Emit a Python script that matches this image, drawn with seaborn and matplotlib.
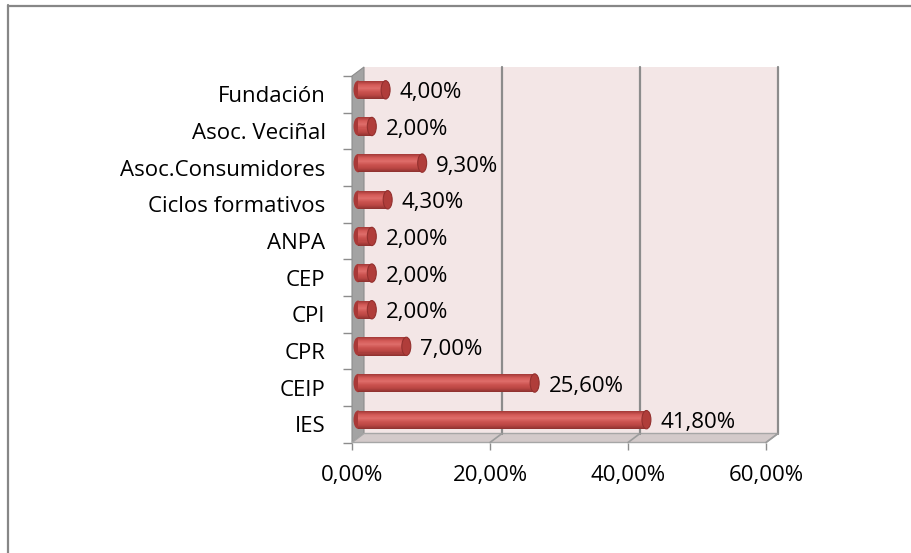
import numpy as np
import pandas as pd
import matplotlib
matplotlib.use('Agg')
import matplotlib.pyplot as plt
import seaborn as sns
from matplotlib.patches import Polygon, Ellipse, Rectangle
from matplotlib.lines import Line2D
from matplotlib.transforms import offset_copy
from matplotlib.colors import LinearSegmentedColormap

# datos
categorias = ['Fundación', 'Asoc. Veciñal', 'Asoc.Consumidores', 'Ciclos formativos',
              'ANPA', 'CEP', 'CPI', 'CPR', 'CEIP', 'IES']
porcentajes = [4.0, 2.0, 9.3, 4.3, 2.0, 2.0, 2.0, 7.0, 25.6, 41.8]
ticks_x = [0, 20, 40, 60]
etiq_x = ['0,00%', '20,00%', '40,00%', '60,00%']

sns.set_theme(style='white')
plt.rcParams['font.family'] = ['Open Sans', 'DejaVu Sans']
fs = 16

W, H = 912, 553
fig = plt.figure(figsize=(W/100, H/100), dpi=100)
# plano frontal en pixeles
fx0, fx1 = 352, 766
fy0, fy1 = 76, 442.5
ax = fig.add_axes([fx0/W, 1-fy1/H, (fx1-fx0)/W, (fy1-fy0)/H])

df = pd.DataFrame({'cat': categorias, 'pct': porcentajes})
sns.barplot(data=df, x='pct', y='cat', order=categorias, color='#C0504D',
            saturation=1, width=0.5, ax=ax, zorder=5)
bars = list(ax.patches)

ax.set_xlim(0, 60)
ax.set_ylim(9.5, -0.5)
ax.patch.set_visible(False)
for s in ax.spines.values():
    s.set_visible(False)

back = offset_copy(ax.transData, fig=fig, x=12, y=9, units='dots')
mid = offset_copy(ax.transData, fig=fig, x=6, y=4.5, units='dots')
front = ax.transData

# pared del fondo
ax.add_patch(Rectangle((0, -0.5), 60, 10, transform=back, facecolor='#F3E6E6',
                       edgecolor='none', zorder=0, clip_on=False))
# pared izquierda
pts = [front.transform((0, -0.5)), back.transform((0, -0.5)),
       back.transform((0, 9.5)), front.transform((0, 9.5))]
pts = ax.transData.inverted().transform(pts)
ax.add_patch(Polygon(pts, closed=True, facecolor='#A3A3A3', edgecolor='#8C8C8C',
                     lw=0.8, zorder=1, clip_on=False))
# suelo
pts = [front.transform((0, 9.5)), front.transform((60, 9.5)),
       back.transform((60, 9.5)), back.transform((0, 9.5))]
pts = ax.transData.inverted().transform(pts)
ax.add_patch(Polygon(pts, closed=True, facecolor='#D3CACA', edgecolor='#A6A6A6',
                     lw=1, zorder=1, clip_on=False))
# rejilla
for xv in ticks_x[1:]:
    ax.plot([xv, xv], [-0.5, 9.5], transform=back, color='#8C8C8C', lw=1.6, zorder=2,
            clip_on=False)
    a = front.transform((xv, 9.5)); b = back.transform((xv, 9.5))
    a, b = ax.transData.inverted().transform([a, b])
    ax.plot([a[0], b[0]], [a[1], b[1]], color='#9C9C9C', lw=1.2, zorder=2, clip_on=False)

# cilindros
cmap = LinearSegmentedColormap.from_list('cil', ['#A83C3A', '#D45B58', '#DE6D6A', '#CB524F',
                                                  '#BA4643', '#913331'])
nstr = 18
cap_w = 1.3
for p, v in zip(bars, porcentajes):
    x, y, w, h = p.get_x(), p.get_y(), p.get_width(), p.get_height()
    yc = y + h/2
    p.set_transform(mid)
    p.set_edgecolor('none')
    ax.add_patch(Ellipse((x, yc), cap_w, h, transform=mid, facecolor='#A93937',
                         edgecolor='none', zorder=4, clip_on=False))
    for k in range(nstr):
        ax.add_patch(Rectangle((x, y + k*h/nstr), w, h/nstr*1.08, transform=mid,
                               facecolor=cmap(k/(nstr-1)), edgecolor='none', zorder=5,
                               clip_on=False))
    ax.add_patch(Ellipse((x + w, yc), cap_w, h, transform=mid, facecolor='#B03D3A',
                         edgecolor='#93302E', lw=0.8, zorder=6, clip_on=False))
    ax.annotate(f'{v:.2f}'.replace('.', ',') + '%', xy=(x + w, yc), xycoords=mid,
                xytext=(14, -3), textcoords='offset pixels', va='center', ha='left',
                fontsize=fs, color='black', zorder=7)

# ejes
ax.set_xticks(ticks_x)
ax.set_xticklabels(etiq_x)
ax.set_yticks(range(len(categorias)))
ax.set_yticklabels(categorias)
ax.set_yticks(np.arange(-0.5, 10, 1), minor=True)
ax.set_xlabel('')
ax.set_ylabel('')
ax.tick_params(axis='x', which='major', bottom=True, direction='out', length=5,
               width=1, color='#8C8C8C', pad=11.5, labelsize=fs, labelcolor='black')
ax.tick_params(axis='y', which='major', left=False, pad=13, labelsize=fs,
               labelcolor='black')
ax.tick_params(axis='y', which='minor', left=True, direction='out', length=6.5,
               width=1, color='#8C8C8C')

# borde
fig.add_artist(Line2D([8.5/W, 8.5/W], [0, 1-5/H], transform=fig.transFigure,
                      color='#878787', lw=1.6))
fig.add_artist(Line2D([8/W, 1], [1-5.5/H, 1-5.5/H], transform=fig.transFigure,
                      color='#878787', lw=1.6))

fig.savefig('out.png', dpi=100)
